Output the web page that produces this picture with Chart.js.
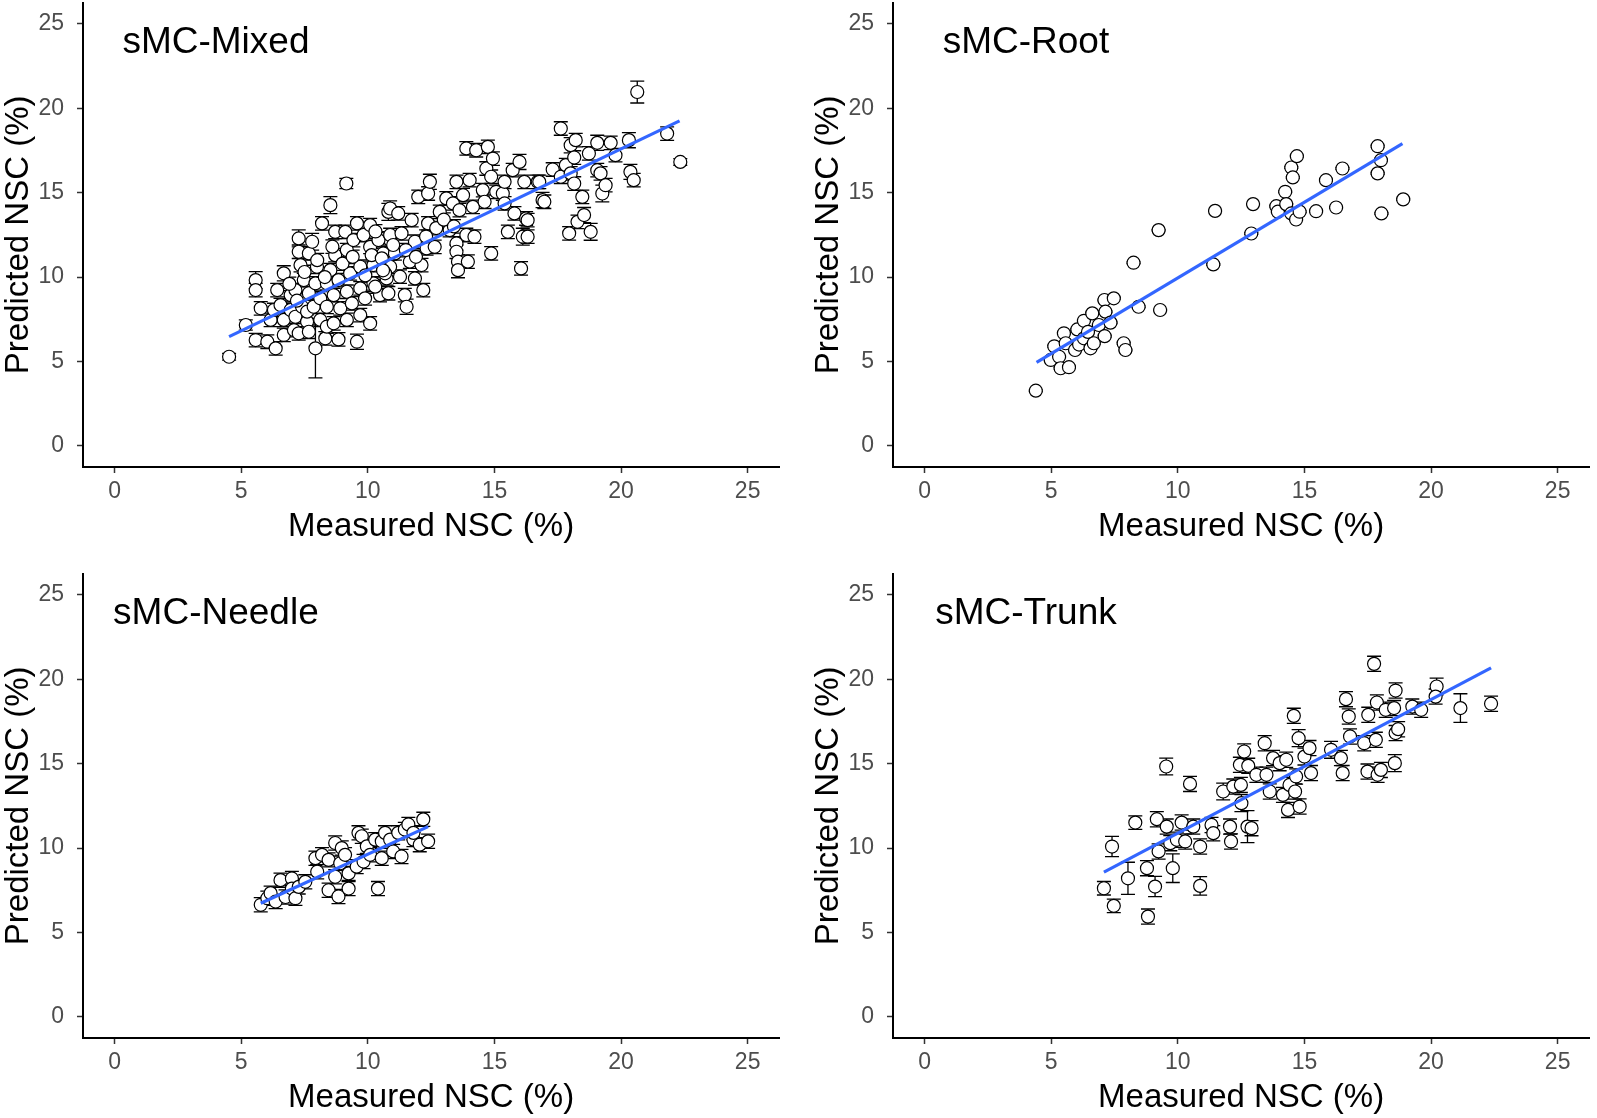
<!DOCTYPE html>
<html>
<head>
<meta charset="utf-8">
<script src="https://cdn.jsdelivr.net/npm/chart.js@4.4.1/dist/chart.umd.min.js"></script>
<style>
  body { margin: 0; background: #fff; width: 1597px; height: 1118px; position: relative; overflow: hidden; }
  canvas { position: absolute; }
</style>
</head>
<body>
<canvas id="mixed" width="787" height="551" style="left:0px;top:-5px"></canvas>
<canvas id="root" width="787" height="551" style="left:810px;top:-5px"></canvas>
<canvas id="needle" width="787" height="551" style="left:0px;top:566px"></canvas>
<canvas id="trunk" width="787" height="551" style="left:810px;top:566px"></canvas>
<script>
// axis ticks (both axes 0-25)
const tickValues = [0, 5, 10, 15, 20, 25];

// [measured, predicted, error]
const mixedPoints = [
  [4.52,5.28,0.2],[5.18,7.16,0.3],[5.57,9.82,0.5],[5.57,9.23,0.4],[5.57,6.27,0.4],[5.77,8.15,0.4],
  [6.03,6.17,0.4],[6.16,7.46,0.4],[6.29,8.05,0.4],[6.36,5.78,0.4],[6.42,9.23,0.4],[6.55,8.34,0.4],
  [6.68,10.22,0.45],[6.68,7.46,0.4],[6.68,6.57,0.4],[6.95,8.93,0.4],[6.95,8.05,0.4],[7.08,6.86,0.4],
  [7.14,9.23,0.4],[7.14,7.65,0.4],[7.27,12.29,0.5],[7.27,11.5,0.4],[7.27,6.67,0.4],[7.34,10.71,0.4],
  [7.4,8.24,0.4],[7.47,9.82,0.4],[7.6,7.36,0.4],[7.6,7.95,0.4],[7.67,11.4,0.4],[7.67,9.04,0.4],
  [7.67,6.76,0.4],[7.8,12.09,0.5],[7.86,8.24,0.4],[7.93,9.63,0.4],[7.93,5.78,1.75],[7.99,10.61,0.4],
  [8.12,8.74,0.4],[8.12,7.46,0.4],[8.19,13.18,0.4],[8.32,6.37,0.4],[8.38,9.63,0.4],[8.38,8.24,0.4],
  [8.38,7.06,0.4],[8.52,14.26,0.5],[8.52,10.41,0.4],[8.65,8.93,0.4],[8.65,7.26,0.4],[8.71,12.68,0.4],
  [8.71,11.3,0.4],[8.84,9.82,0.4],[8.84,6.31,0.4],[8.91,8.15,0.4],[9.11,12.68,0.4],[9.15,15.54,0.3],
  [9.17,11.6,0.4],[9.17,9.13,0.4],[9.17,7.46,0.4],[9.3,10.22,0.4],[9.37,8.44,0.4],[9.43,12.19,0.4],
  [9.57,13.18,0.4],[9.57,6.17,0.45],[9.7,10.61,0.4],[9.7,9.33,0.4],[9.7,7.75,0.4],[9.83,12.49,0.4],
  [9.89,8.74,0.4],[10.09,13.08,0.4],[10.09,11.79,0.4],[10.09,7.26,0.4],[10.22,10.71,0.4],[10.22,9.63,0.4],
  [10.48,12.29,0.4],[10.48,8.93,0.4],[10.61,11.4,0.4],[10.74,9.92,0.4],[10.81,13.86,0.5],[10.88,12.19,0.4],
  [10.88,10.61,0.4],[10.15,11.3,0.4],[10.29,9.43,0.4],[10.42,12.19,0.4],[10.55,11.11,0.4],[10.68,10.22,0.4],
  [10.81,9.04,0.4],[10.88,14.06,0.45],[10.88,12.49,0.4],[11.07,11.4,0.4],[11.2,13.77,0.4],[11.27,10.02,0.4],
  [11.33,12.59,0.4],[11.46,8.93,0.4],[11.53,8.24,0.45],[11.66,10.91,0.4],[11.73,13.37,0.4],[11.86,12.09,0.4],
  [11.86,9.92,0.4],[11.99,14.75,0.4],[12.12,10.71,0.4],[12.19,9.23,0.4],[12.32,11.7,0.4],[12.38,14.95,0.4],
  [12.38,13.18,0.4],[12.45,15.64,0.45],[12.64,11.79,0.4],[12.84,13.86,0.4],[13.1,14.66,0.4],[13.23,12.78,0.4],
  [13.36,14.36,0.4],[13.5,15.64,0.4],[13.5,11.99,0.4],[13.5,11.5,0.4],[13.56,10.91,0.4],[13.56,10.41,0.45],
  [13.62,13.96,0.4],[13.76,14.85,0.4],[13.89,17.62,0.4],[13.89,12.49,0.4],[13.95,10.91,0.4],[14.02,15.74,0.4],
  [14.15,14.16,0.4],[14.21,12.39,0.4],[14.28,17.51,0.4],[14.54,15.15,0.4],[14.61,14.46,0.4],[14.68,16.43,0.4],
  [14.74,17.71,0.4],[14.87,15.94,0.4],[14.87,11.4,0.4],[14.94,17.02,0.4],[15.07,15.05,0.4],[15.33,14.95,0.4],
  [15.4,15.64,0.4],[15.4,14.36,0.4],[15.53,12.68,0.4],[15.72,16.33,0.4],[15.79,13.77,0.4],[15.99,16.82,0.45],
  [16.05,10.51,0.4],[16.12,12.39,0.5],[16.18,15.64,0.4],[16.25,13.47,0.4],[16.71,15.64,0.4],[16.9,14.56,0.45],
  [16.31,13.37,0.4],[16.31,12.39,0.4],[16.77,15.64,0.4],[16.97,14.46,0.4],[17.3,16.37,0.4],[17.62,18.8,0.4],
  [17.62,15.94,0.4],[17.82,16.63,0.4],[17.95,12.59,0.4],[18.01,17.81,0.45],[18.01,16.14,0.4],[18.15,17.08,0.4],
  [18.15,15.54,0.4],[18.21,18.11,0.4],[18.28,13.27,0.4],[18.47,14.75,0.4],[18.54,13.67,0.45],[18.73,17.32,0.4],
  [18.8,12.68,0.5],[19.06,17.95,0.45],[19.06,16.33,0.4],[19.19,16.14,0.4],[19.26,14.95,0.5],[19.39,15.44,0.4],
  [19.59,17.95,0.4],[19.78,17.22,0.4],[20.31,18.11,0.45],[20.37,16.23,0.45],[20.5,15.74,0.4],[20.64,20.96,0.65],
  [21.82,18.5,0.4],[22.34,16.82,0.2],
  [6.9,9.6,0.4],[7.5,10.3,0.4],[8.0,11.0,0.4],[8.6,11.8,0.4],[9.0,10.8,0.4],[9.4,11.2,0.4],
  [9.9,10.1,0.4],[10.3,12.7,0.4],[10.6,10.4,0.4],[11.0,11.9,0.4],[11.5,11.6,0.4],[11.9,11.2,0.4],
  [12.3,12.4,0.4],[12.7,12.9,0.4],[13.0,13.4,0.4],[13.4,13.0,0.4],[8.3,10.0,0.4],[7.2,8.6,0.4]
];
const rootPoints = [
  [4.39,3.27,0.05],[4.98,5.09,0.05],[5.12,5.9,0.05],[5.31,5.28,0.05],[5.37,4.6,0.05],[5.5,6.67,0.05],
  [5.57,6.08,0.05],[5.7,4.66,0.05],[5.94,5.68,0.05],[6.03,6.9,0.05],[6.1,6.0,0.05],[6.29,7.41,0.05],
  [6.29,6.37,0.05],[6.45,6.75,0.05],[6.55,5.78,0.05],[6.62,7.85,0.05],[6.68,6.08,0.05],[6.88,7.16,0.05],
  [7.1,8.64,0.05],[7.11,6.5,0.05],[7.14,7.95,0.05],[7.34,7.3,0.05],[7.47,8.74,0.05],[7.86,6.08,0.05],
  [7.93,5.68,0.05],[8.25,10.85,0.05],[8.45,8.24,0.05],[9.24,12.78,0.05],[9.3,8.05,0.05],[11.4,10.75,0.05],
  [11.47,13.92,0.05],[12.9,12.58,0.05],[12.97,14.32,0.05],[13.89,14.2,0.05],[13.95,13.87,0.05],[14.24,15.05,0.05],
  [14.28,14.32,0.05],[14.48,16.49,0.05],[14.54,15.9,0.05],[14.7,17.16,0.05],[14.48,13.77,0.05],[14.67,13.41,0.05],
  [14.81,13.87,0.05],[15.46,13.9,0.05],[15.85,15.74,0.05],[16.25,14.12,0.05],[16.5,16.43,0.05],[17.89,17.75,0.05],
  [18.02,16.92,0.05],[17.89,16.14,0.05],[18.04,13.77,0.05],[18.9,14.6,0.05]
];
const needlePoints = [
  [5.77,6.64,0.42],[6.03,7.03,0.42],[6.16,7.33,0.42],[6.36,6.83,0.42],[6.55,8.1,0.42],[6.75,7.1,0.42],
  [7.0,8.2,0.42],[7.0,7.6,0.42],[7.14,7.03,0.42],[7.27,7.7,0.42],[7.53,8.0,0.42],[7.93,9.4,0.42],
  [8.0,8.6,0.42],[8.19,9.6,0.42],[8.45,9.3,0.42],[8.45,7.5,0.42],[8.71,8.3,0.42],[8.71,10.3,0.42],
  [8.84,7.13,0.42],[8.91,9.1,0.42],[8.97,10.0,0.42],[9.1,9.6,0.42],[9.24,7.6,0.42],[9.24,8.5,0.42],
  [9.56,8.9,0.42],[9.63,10.9,0.42],[9.76,10.7,0.42],[9.83,9.2,0.42],[9.96,10.1,0.42],[10.09,9.6,0.42],
  [10.29,10.5,0.42],[10.4,7.6,0.42],[10.55,9.4,0.42],[10.55,10.4,0.42],[10.68,10.9,0.42],[10.88,10.5,0.42],
  [11.0,9.8,0.42],[11.2,10.9,0.42],[11.33,9.5,0.42],[11.46,11.1,0.42],[11.6,11.4,0.42],[11.8,10.5,0.42],
  [11.8,10.9,0.42],[12.05,10.2,0.42],[12.19,11.7,0.42],[12.38,10.4,0.42]
];
const trunkPoints = [
  [7.08,7.62,0.4],[7.47,6.58,0.4],[7.4,10.09,0.6],[8.03,8.21,0.95],[8.32,11.51,0.4],[8.78,8.81,0.45],
  [8.82,5.94,0.45],[9.1,7.72,0.6],[9.17,11.71,0.45],[9.24,9.8,0.45],[9.54,14.83,0.5],[9.56,11.27,0.45],
  [9.7,10.29,0.45],[9.8,8.81,0.85],[9.96,10.49,0.45],[10.15,11.51,0.45],[10.29,10.39,0.45],[10.48,13.8,0.45],
  [10.61,11.27,0.45],[10.88,10.09,0.45],[10.88,7.76,0.55],[11.33,11.37,0.45],[11.4,10.88,0.45],[11.79,13.35,0.5],
  [12.06,11.27,0.45],[12.1,10.39,0.45],[12.19,13.64,0.45],[12.45,14.93,0.45],[12.49,13.74,0.45],[12.51,12.66,0.5],
  [12.62,15.72,0.45],[12.78,14.87,0.45],[12.75,11.27,0.95],[12.91,11.18,0.45],[13.1,14.34,0.45],[13.43,16.21,0.45],
  [13.5,14.34,0.45],[13.63,13.35,0.45],[13.76,15.33,0.45],[14.02,15.03,0.45],[14.15,13.15,0.45],[14.28,15.23,0.45],
  [14.35,12.26,0.45],[14.41,13.74,0.45],[14.58,17.83,0.45],[14.63,13.35,0.45],[14.67,14.24,0.45],[14.77,16.51,0.5],
  [14.81,12.46,0.45],[15.0,15.42,0.5],[15.2,15.92,0.45],[15.26,14.44,0.45],[16.05,15.82,0.5],[16.44,15.33,0.45],
  [16.51,14.44,0.45],[16.64,18.82,0.45],[16.75,17.79,0.45],[16.8,16.61,0.45],[17.36,16.21,0.45],[17.49,14.53,0.45],
  [17.52,17.89,0.45],[17.75,20.91,0.45],[17.82,16.41,0.45],[17.86,18.62,0.45],[17.89,14.34,0.45],[18.02,14.63,0.45],
  [18.21,18.19,0.45],[18.54,18.29,0.45],[18.6,19.33,0.45],[18.6,16.81,0.45],[18.57,15.03,0.5],[18.7,17.04,0.45],
  [19.26,18.38,0.45],[19.61,18.19,0.45],[20.22,19.57,0.5],[20.18,18.97,0.45],[21.16,18.29,0.85],[22.37,18.55,0.45]
];

// fitted regression line end points
const mixedFit = [[4.52, 6.47], [22.31, 19.25]];
const rootFit = [[4.42, 4.95], [18.87, 17.91]];
const needleFit = [[5.77, 6.73], [12.38, 11.27]];
const trunkFit = [[7.08, 8.57], [22.37, 20.67]];

const FONT = "'Liberation Sans', Arial, Helvetica, sans-serif";

// error bars under the points
const errorBars = {
  id: "errorBars",
  beforeDatasetsDraw(chart) {
    const ctx = chart.ctx;
    const xs = chart.scales.x, ys = chart.scales.y;
    const pts = chart.data.datasets[1].data;
    ctx.save();
    ctx.strokeStyle = "#000";
    ctx.lineWidth = 1.3;
    pts.forEach((p) => {
      const px = xs.getPixelForValue(p.x);
      const lo = ys.getPixelForValue(p.y - p.err);
      const hi = ys.getPixelForValue(p.y + p.err);
      ctx.beginPath();
      ctx.moveTo(px, lo); ctx.lineTo(px, hi);
      ctx.moveTo(px - 7, lo); ctx.lineTo(px + 7, lo);
      ctx.moveTo(px - 7, hi); ctx.lineTo(px + 7, hi);
      ctx.stroke();
    });
    ctx.restore();
  },
};

// panel name written inside the plot
const panelLabel = {
  id: "panelLabel",
  afterDraw(chart, args, opts) {
    const ctx = chart.ctx;
    ctx.save();
    ctx.font = "37px " + FONT;
    ctx.fillStyle = "#000";
    ctx.textAlign = "center";
    ctx.textBaseline = "alphabetic";
    ctx.fillText(opts.text, chart.scales.x.getPixelForValue(4), chart.scales.y.getPixelForValue(23.25));
    ctx.restore();
  },
};

function axis(title, isX) {
  return {
    type: "linear",
    min: -1.25,
    max: 26.25,
    afterBuildTicks: (scale) => {
      scale.ticks = tickValues.map((v) => ({ value: v }));
    },
    afterFit: (scale) => {
      if (isX) scale.height = 79;
      else scale.width = 83;
      scale.paddingTop = 0;
      scale.paddingBottom = 0;
      scale.paddingLeft = 0;
      scale.paddingRight = 0;
    },
    grid: { drawOnChartArea: false, drawTicks: true, tickLength: 6, tickWidth: 1.5, tickColor: "#333" },
    border: { display: true, color: "#000", width: 2 },
    ticks: {
      color: "#4D4D4D",
      font: { family: FONT, size: 23 },
      padding: isX ? 5 : 13,
      callback: (v) => String(v),
    },
    title: {
      display: true,
      text: title,
      color: "#000",
      font: { family: FONT, size: 33, lineHeight: 1 },
      padding: isX ? { top: 0, bottom: 3 } : { top: 2, bottom: 0 },
    },
  };
}

function makePanel(id, label, points, fit) {
  new Chart(document.getElementById(id), {
    type: "scatter",
    data: {
      datasets: [
        {
          type: "line",
          data: fit.map(([x, y]) => ({ x, y })),
          borderColor: "#3366FF",
          borderWidth: 3.2,
          pointRadius: 0,
          fill: false,
          order: 0,
        },
        {
          data: points.map(([x, y, err]) => ({ x, y, err })),
          pointRadius: 6.5,
          pointBorderWidth: 1.2,
          pointBackgroundColor: "#fff",
          pointBorderColor: "#000",
          order: 1,
        },
      ],
    },
    options: {
      responsive: false,
      animation: false,
      devicePixelRatio: 1,
      layout: { padding: { top: 2, right: 4, left: 0, bottom: 0 } },
      plugins: {
        legend: { display: false },
        tooltip: { enabled: false },
        panelLabel: { text: label },
      },
      scales: {
        x: axis("Measured NSC (%)", true),
        y: axis("Predicted NSC (%)", false),
      },
    },
    plugins: [errorBars, panelLabel],
  });
}

makePanel("mixed", "sMC-Mixed", mixedPoints, mixedFit);
makePanel("root", "sMC-Root", rootPoints, rootFit);
makePanel("needle", "sMC-Needle", needlePoints, needleFit);
makePanel("trunk", "sMC-Trunk", trunkPoints, trunkFit);
</script>
</body>
</html>
